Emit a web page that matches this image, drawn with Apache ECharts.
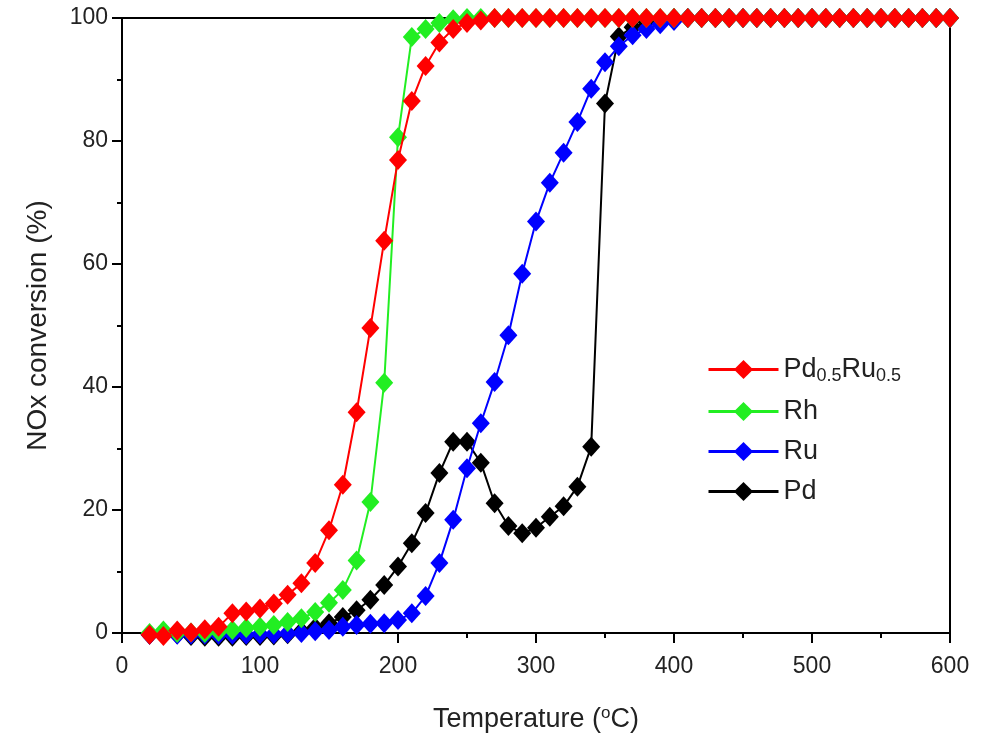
<!DOCTYPE html>
<html>
<head>
<meta charset="utf-8">
<script src="https://cdn.jsdelivr.net/npm/echarts@6/dist/echarts.min.js"></script>
<style>html,body{margin:0;padding:0;background:#fff}#c{width:999px;height:739px}</style>
</head>
<body>
<div id="c"></div>
<script>
var temps = [20,30,40,50,60,70,80,90,100,110,120,130,140,150,160,170,180,190,200,210,220,230,240,250,260,270,280,290,300,310,320,330,340,350,360,370,380,390,400,410,420,430,440,450,460,470,480,490,500,510,520,530,540,550,560,570,580,590,600];
var seriesNames = ['Pd0.5Ru0.5','Rh','Ru','Pd'];
var pdru = [-0.3,-0.5,0.4,0.1,0.6,1.0,3.2,3.5,4.0,4.8,6.2,8.1,11.4,16.7,24.1,35.9,49.6,63.8,76.9,86.5,92.2,96.0,98.2,99.2,99.6,100,100,100,100,100,100,100,100,100,100,100,100,100,100,100,100,100,100,100,100,100,100,100,100,100,100,100,100,100,100,100,100,100,100];
var rh = [0,0.4,0,0.1,0,0.2,0.5,0.8,1.0,1.3,1.8,2.4,3.4,4.9,7.0,11.8,21.3,40.7,80.6,96.9,98.2,99.2,99.8,100,100,100,100,100,100,100,100,100,100,100,100,100,100,100,100,100,100,100,100,100,100,100,100,100,100,100,100,100,100,100,100,100,100,100,100];
var ru = [-0.3,-0.3,-0.3,-0.3,-0.3,-0.3,-0.3,-0.3,-0.2,-0.2,-0.1,0,0.3,0.5,1.0,1.3,1.5,1.6,2.1,3.2,6.0,11.4,18.4,26.8,34.1,40.8,48.4,58.4,66.9,73.2,78.1,83.1,88.5,92.8,95.4,97.2,98.2,99.0,99.5,100,100,100,100,100,100,100,100,100,100,100,100,100,100,100,100,100,100,100,100];
var pd = [-0.3,-0.3,-0.2,-0.5,-0.6,-0.6,-0.6,-0.5,-0.5,-0.4,-0.2,0.3,0.9,1.6,2.6,3.7,5.4,7.8,10.8,14.6,19.5,26.0,31.1,31.1,27.7,21.1,17.4,16.2,17.1,18.9,20.6,23.8,30.3,86.1,97.0,98.5,99.3,99.8,100,100,100,100,100,100,100,100,100,100,100,100,100,100,100,100,100,100,100,100,100];
var colors = ['#ff0000','#22ee22','#0000ff','#000000'];
var values = [pdru, rh, ru, pd];
var zs = [6,5,4,3];

function pairs(arr){ return temps.map(function(t,i){ return [t, arr[i]]; }); }

var FONT = 'Liberation Sans, Arial, Helvetica, sans-serif';
var chart = echarts.init(document.getElementById('c'), null, {renderer:'canvas'});
var series = seriesNames.map(function(n,i){
  return {
    name: n, type: 'line', data: pairs(values[i]),
    symbol: 'diamond', symbolSize: [18,20],
    clip: false,
    z: zs[i],
    lineStyle: {color: colors[i], width: 2},
    itemStyle: {color: colors[i]},
    emphasis: {disabled: true},
    animation: false
  };
});
chart.setOption({
  animation: false,
  backgroundColor: '#fff',
  grid: {left: 122, right: 49, top: 18, bottom: 106, show: true, borderColor: '#000', borderWidth: 2, backgroundColor: 'transparent'},
  legend: {
    orient: 'vertical', left: 702, top: 351, itemGap: 13, itemWidth: 70, itemHeight: 24,
    data: seriesNames,
    lineStyle: {width: 3},
    formatter: function(n){ return n === 'Pd0.5Ru0.5' ? '{n|Pd}{s|0.5}{n|Ru}{s|0.5}' : '{n|' + n + '}'; },
    textStyle: {
      fontFamily: FONT, fontSize: 27, color: '#222',
      rich: {
        n: {fontFamily: FONT, fontSize: 27, color: '#222'},
        s: {fontFamily: FONT, fontSize: 18, color: '#222', padding: [13,0,0,0]}
      }
    }
  },
  xAxis: {
    type: 'value', min: 0, max: 600, interval: 100,
    name: '{a|Temperature (}{s|o}{a|C)}', nameLocation: 'middle', nameGap: 72,
    nameTextStyle: {rich: {
      a: {fontFamily: FONT, fontSize: 27, color: '#222'},
      s: {fontFamily: FONT, fontSize: 17, color: '#222', padding: [0,0,12,0]}
    }},
    axisLine: {show: true, onZero: false, lineStyle: {color: '#000', width: 2}},
    axisTick: {show: true, inside: false, length: 10, lineStyle: {color: '#000', width: 2}},
    minorTick: {show: true, splitNumber: 2, length: 5, lineStyle: {color: '#000', width: 2}},
    axisLabel: {fontFamily: FONT, fontSize: 23, color: '#222', margin: 22},
    splitLine: {show: false}
  },
  yAxis: {
    type: 'value', min: 0, max: 100, interval: 20,
    name: 'NOx conversion (%)', nameLocation: 'middle', nameGap: 70, nameRotate: 90,
    nameTextStyle: {fontFamily: FONT, fontSize: 28, color: '#222'},
    axisLine: {show: true, onZero: false, lineStyle: {color: '#000', width: 2}},
    axisTick: {show: true, inside: false, length: 10, lineStyle: {color: '#000', width: 2}},
    minorTick: {show: true, splitNumber: 2, length: 5, lineStyle: {color: '#000', width: 2}},
    axisLabel: {fontFamily: FONT, fontSize: 23, color: '#222', margin: 14},
    splitLine: {show: false}
  },
  series: series
});
</script>
</body>
</html>
